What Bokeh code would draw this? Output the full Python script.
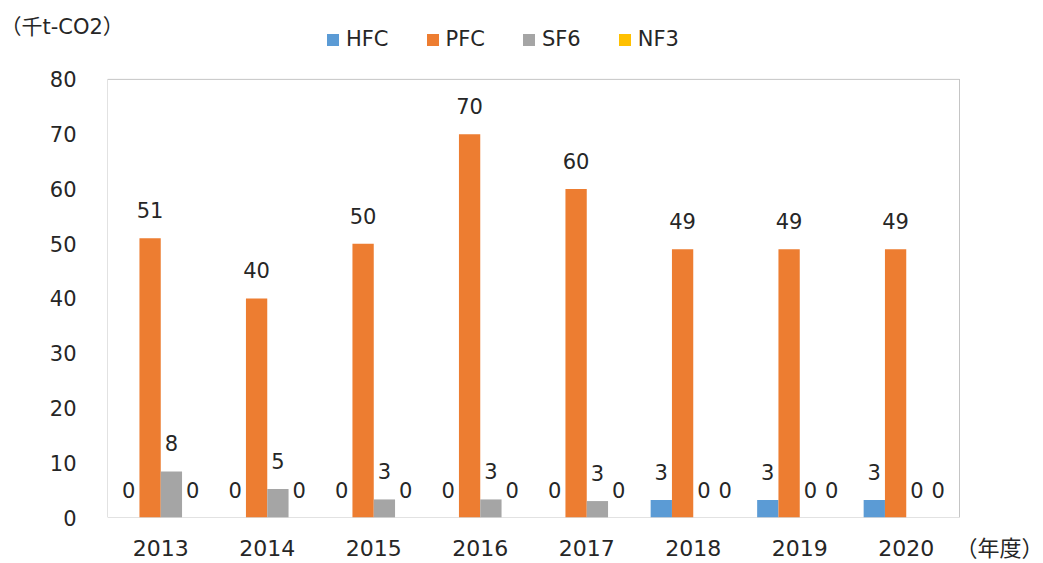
from bokeh.plotting import figure
from bokeh.models import (Range1d, FixedTicker, Legend, LegendItem,
                          ColumnDataSource, BoxAnnotation)
from bokeh.transform import dodge
from bokeh.core.properties import value
from bokeh.embed import file_html
from bokeh.resources import INLINE

years = ["2013", "2014", "2015", "2016", "2017", "2018", "2019", "2020"]
series = ["HFC", "PFC", "SF6", "NF3"]
hfc = [0, 0, 0, 0, 0, 3.2, 3.2, 3.2]
pfc = [51, 40, 50, 70, 60, 49, 49, 49]
sf6 = [8.4, 5.2, 3.3, 3.3, 3.0, 0, 0, 0]
nf3 = [0, 0, 0, 0, 0, 0, 0, 0]
colors = ["#5B9BD5", "#ED7D31", "#A5A5A5", "#FFC000"]
y_ticks = [0, 10, 20, 30, 40, 50, 60, 70, 80]
y_unit = "（千t-CO2）"
x_unit = "（年度）"

FONT = "DejaVu Sans"
MIXFONT = "DejaVu Sans, Noto Sans CJK JP"
TXT = "#262626"

n = len(years)
centers = [i + 0.5 for i in range(n)]          # category slots on the x scale
unit_pos = n + 0.42                              # slot for the "（年度）" caption

src = ColumnDataSource(dict(
    xc=centers, v_hfc=hfc, v_pfc=pfc, v_sf6=sf6, v_nf3=nf3,
    l_hfc=["%.0f" % v for v in hfc], l_pfc=["%.0f" % v for v in pfc],
    l_sf6=["%.0f" % v for v in sf6], l_nf3=["%.0f" % v for v in nf3],
))
keys = ["hfc", "pfc", "sf6", "nf3"]

TOP = 25
px_per_unit = 439 / y_ticks[-1]
y_end = y_ticks[-1] + (79 - TOP) / px_per_unit
x_end = n + 84 / (852 / n)

p = figure(width=1043, height=563, x_range=Range1d(0, x_end),
           y_range=Range1d(0, y_end), output_backend="svg", toolbar_location=None,
           min_border_left=107, min_border_right=0, min_border_top=TOP,
           min_border_bottom=45)
p.background_fill_color = "white"
p.border_fill_color = "white"
p.outline_line_color = None
p.xgrid.visible = False
p.ygrid.visible = False

# plot-area border (0..n categories, 0..max tick)
p.add_layout(BoxAnnotation(left=0, right=n, bottom=0, top=y_ticks[-1],
                           fill_alpha=0, line_color="#404040", line_width=1))

offsets = [-0.3, -0.1, 0.1, 0.3]
renderers = []
for k, off, c in zip(keys, offsets, colors):
    r = p.vbar(x=dodge("xc", off), top="v_" + k, width=0.2,
               source=src, fill_color=c, line_color=None)
    renderers.append(r)
    p.text(x=dodge("xc", off), y="v_" + k, text="l_" + k, source=src,
           text_align="center", text_baseline="alphabetic", y_offset=-28,
           text_font=value(FONT), text_font_size="21px", text_color=TXT)

p.yaxis.ticker = FixedTicker(ticks=y_ticks)
p.yaxis.axis_line_color = None
p.yaxis.major_tick_line_color = None
p.yaxis.minor_tick_line_color = None
p.yaxis.major_label_standoff = 25
p.yaxis.major_label_text_font = FONT
p.yaxis.major_label_text_font_size = "21px"
p.yaxis.major_label_text_color = TXT

p.xaxis.ticker = FixedTicker(ticks=centers + [unit_pos])
p.xaxis.major_label_overrides = {**{c: y for c, y in zip(centers, years)}, unit_pos: x_unit}
p.xaxis.axis_line_color = None
p.xaxis.major_tick_line_color = None
p.xaxis.minor_tick_line_color = None
p.xaxis.major_label_standoff = 12
p.xaxis.major_label_text_font = MIXFONT
p.xaxis.major_label_text_font_size = "22px"
p.xaxis.major_label_text_color = TXT

# unit label of the value axis (top-left)
p.title.text = y_unit
p.title.align = "left"
p.title.offset = -107
p.title.standoff = -26
p.title.text_font = MIXFONT
p.title.text_font_size = "21px"
p.title.text_font_style = "normal"
p.title.text_color = TXT

legend = Legend(items=[LegendItem(label=value(s), renderers=[r]) for s, r in zip(series, renderers)],
                orientation="horizontal", location=(218, 466),
                glyph_width=15, glyph_height=15, label_standoff=6, spacing=36,
                padding=0, margin=0, border_line_color=None, background_fill_alpha=0,
                label_text_font=FONT, label_text_font_size="21px",
                label_text_color=TXT, label_height=20)
p.add_layout(legend, "center")

open("out.html", "w").write(file_html(p, INLINE))
